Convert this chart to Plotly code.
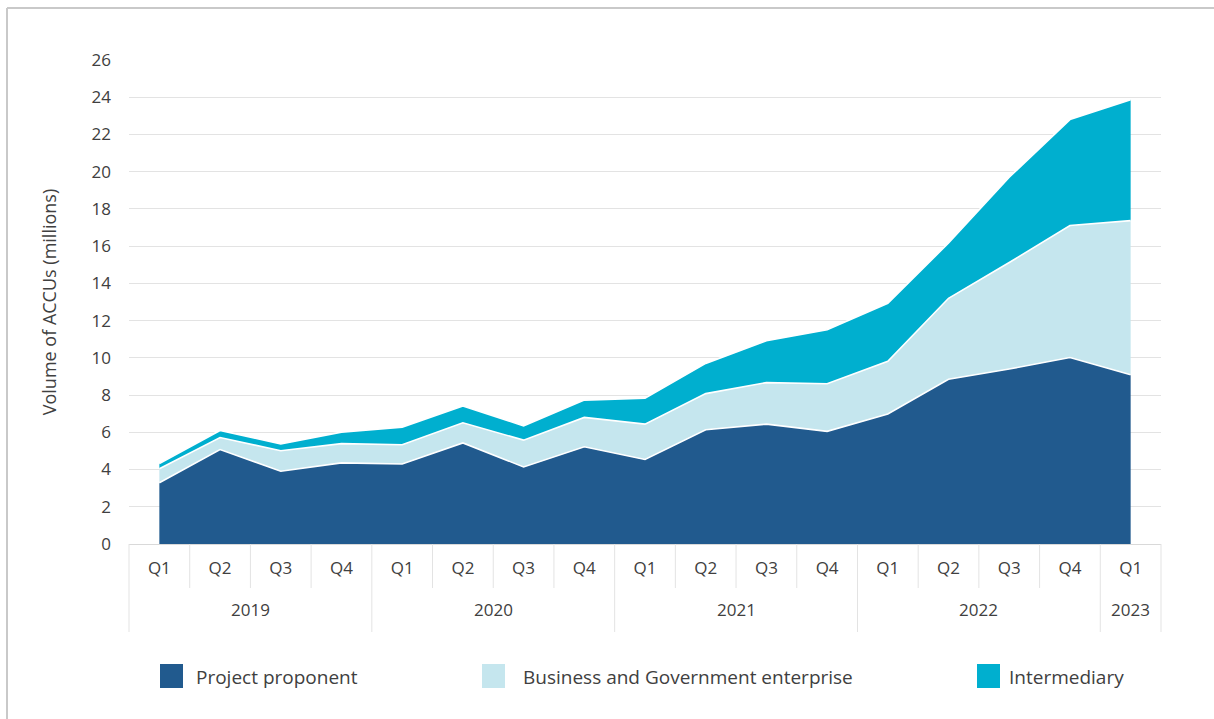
import plotly.graph_objects as go

# Quarterly ACCU volumes (millions) by holder type, stacked
years = ["2019"] * 4 + ["2020"] * 4 + ["2021"] * 4 + ["2022"] * 4 + ["2023"]
quarters = ["Q1", "Q2", "Q3", "Q4"] * 4 + ["Q1"]

project_proponent = [3.29, 5.07, 3.91, 4.36, 4.30, 5.43, 4.14, 5.22, 4.54,
                     6.14, 6.44, 6.05, 6.98, 8.85, 9.40, 10.02, 9.09]
business_government = [0.75, 0.65, 1.10, 1.03, 1.03, 1.08, 1.44, 1.58, 1.90,
                       1.94, 2.23, 2.56, 2.84, 4.35, 5.72, 7.09, 8.28]
intermediary = [0.28, 0.38, 0.36, 0.62, 0.95, 0.90, 0.77, 0.93, 1.39,
                1.62, 2.25, 2.90, 3.11, 2.97, 4.58, 5.69, 6.50]

series_names = ["Project proponent", "Business and Government enterprise", "Intermediary"]
series_values = [project_proponent, business_government, intermediary]
series_colors = ["#215A8E", "#C5E6EE", "#00AFCF"]

y_ticks = list(range(0, 27, 2))

# one unique category per quarter, labelled by its quarter only
periods = [f"{y} {q}" for y, q in zip(years, quarters)]

# Canvas and plot-area geometry (pixels)
W, H = 1214, 719
ML, MR, MT, MB = 129, 53, 60, 175
PW, PH = W - ML - MR, H - MT - MB

FONT = "Open Sans"
TEXT = "#404040"
RULE = "#E3E3E3"


def fx(px):
    return (px - ML) / PW


def fy(py):
    return (H - MB - py) / PH


fig = go.Figure()
for name, vals, col in zip(series_names, series_values, series_colors):
    fig.add_trace(go.Scatter(
        x=periods, y=vals, name=name,
        stackgroup="one", mode="lines",
        line=dict(color="white", width=1.6, shape="linear"),
        fillcolor=col, showlegend=False, hoverinfo="x+y+name",
    ))

shapes = []
annotations = []
n = len(periods)

# separators between quarter cells and taller ones between years
for k in range(n + 1):
    year_edge = k == 0 or k == n or years[k] != years[k - 1]
    shapes.append(dict(
        type="line", xref="paper", yref="paper",
        x0=k / n, x1=k / n, y0=0, y1=fy(632 if year_edge else 588),
        line=dict(color=RULE, width=1),
    ))

# year labels centred under their quarters
for yr in dict.fromkeys(years):
    idx = [i for i, v in enumerate(years) if v == yr]
    centre = (idx[0] + idx[-1] + 1) / 2 / n
    annotations.append(dict(xref="paper", yref="paper", x=centre, y=fy(609),
                            text=yr, showarrow=False, xanchor="center",
                            yanchor="middle",
                            font=dict(family=FONT, size=17, color=TEXT)))

# outer frame (top and left edges)
shapes.append(dict(type="line", xref="paper", yref="paper",
                   x0=fx(7), x1=fx(W + 5), y0=fy(8), y1=fy(8),
                   line=dict(color="#C9C9C9", width=2)))
shapes.append(dict(type="line", xref="paper", yref="paper",
                   x0=fx(7), x1=fx(7), y0=fy(8), y1=fy(H + 5),
                   line=dict(color="#C9C9C9", width=2)))

# legend swatches and labels
legend_items = [(160, 194), (482, 521), (977, 1007)]
for (sx, tx), name, col in zip(legend_items, series_names, series_colors):
    shapes.append(dict(type="rect", xref="paper", yref="paper",
                       x0=fx(sx), x1=fx(sx + 23), y0=fy(664), y1=fy(688),
                       fillcolor=col, line=dict(width=0)))
    annotations.append(dict(xref="paper", yref="paper", x=fx(tx), y=fy(677),
                            text=name, showarrow=False, xanchor="left",
                            yanchor="middle",
                            font=dict(family=FONT, size=19, color=TEXT)))

fig.update_layout(
    width=W, height=H,
    margin=dict(l=ML, r=MR, t=MT, b=MB),
    plot_bgcolor="white", paper_bgcolor="white",
    font=dict(family=FONT, size=16, color=TEXT),
    shapes=shapes, annotations=annotations,
    showlegend=False,
    xaxis=dict(
        type="category", range=[-0.5, n - 0.5],
        tickvals=periods, ticktext=quarters,
        showgrid=False, showline=True, linecolor="#D9D9D9", linewidth=1,
        ticks="", tickfont=dict(family=FONT, size=17, color=TEXT),
        ticklabelstandoff=9,
    ),
    yaxis=dict(
        range=[0, 26], tickvals=y_ticks, showgrid=True, gridcolor=RULE,
        gridwidth=1, zeroline=False, showline=False, ticks="",
        tickfont=dict(family=FONT, size=17, color=TEXT),
        ticklabelstandoff=17,
        title=dict(text="Volume of ACCUs (millions)",
                   font=dict(family=FONT, size=18, color=TEXT), standoff=30),
    ),
)

fig.write_html("out.html")
